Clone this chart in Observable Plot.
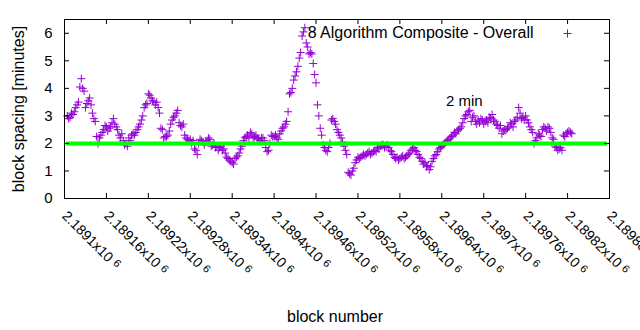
<!DOCTYPE html>
<html>
<head>
<meta charset="utf-8">
<script src="https://cdn.jsdelivr.net/npm/d3@7"></script>
<script src="https://cdn.jsdelivr.net/npm/@observablehq/plot@0.6"></script>
<style>
  html, body { margin: 0; padding: 0; background: #fff; }
  svg { display: block; }
</style>
</head>
<body>
<div id="chart"></div>
<script>
// ---- data ----
const blocksA = [
  2189104,2189108,2189112,2189116,2189120,2189124,2189128,2189132,2189136,2189140,
  2189144,2189148,2189152,2189156,2189160,2189164,2189168,2189172,2189176,2189180,
  2189184,2189188,2189192,2189196,2189200,2189204,2189208,2189212,2189216,2189220,
  2189224,2189228,2189232,2189236,2189240,2189244,2189248,2189252,2189256,2189260,
  2189264,2189268,2189272,2189276,2189280,2189284,2189288,2189292,2189296,2189300,
  2189304,2189308,2189312,2189316,2189320,2189324,2189328,2189332,2189336,2189340,
  2189344,2189348,2189352,2189356,2189360,2189364,2189368,2189372,2189376,2189380,
  2189384,2189388,2189392,2189396,2189400,2189404,2189408,2189412,2189416,2189420,
  2189424,2189428,2189432,2189436,2189440,2189444,2189448,2189452,2189456,2189460,
  2189464,2189468,2189472,2189476,2189480,2189484,2189488,2189492,2189496,2189500,
  2189504,2189508,2189512,2189516,2189520,2189524,2189528,2189532,2189536,2189540,
  2189544,2189548,2189552,2189556,2189560,2189564,2189568,2189572,2189576,2189580,
  2189584,2189588,2189592,2189596,2189600,2189604,2189608,2189612,2189616,2189620,
  2189624,2189628,2189632,2189636,2189640,2189644,2189648,2189652,2189656,2189660,
  2189664,2189668,2189672,2189676,2189680,2189684,2189688,2189692,2189696,2189700,
  2189704,2189708,2189712,2189716,2189720,2189724,2189728,2189732,2189736,2189740,
  2189744,2189748,2189752,2189756,2189760,2189764,2189768,2189772,2189776,2189780,
  2189784,2189788,2189792,2189796,2189800,2189804,2189808,2189812,2189816,2189820,
  2189824
];
const spacingA = [
  3.0, 2.95, 3.05, 3.3, 3.5, 4.35, 3.9, 3.45, 3.65, 3.1,
  2.8, 2.0, 2.3, 2.5, 2.6, 2.55, 2.75, 2.7, 2.5, 2.2,
  2.1, 2.0, 2.2, 2.3, 2.3, 2.5, 2.7, 3.0, 3.4, 3.8,
  3.65, 3.5, 3.5, 3.1, 2.5, 2.25, 2.3, 2.7, 2.95, 3.1,
  2.75, 2.6, 2.3, 2.15, 2.15, 2.1, 1.75, 2.0, 2.1, 1.95,
  2.1, 2.15, 1.95, 1.85, 1.75, 1.9, 1.8, 1.5, 1.4, 1.3,
  1.45, 1.55, 1.8, 2.1, 2.25, 2.2, 2.35, 2.25, 2.2, 2.1,
  2.2, 1.85, 1.75, 2.3, 2.25, 2.2, 2.35, 2.55, 2.7, 3.15,
  3.85, 4.3, 4.6, 5.1, 5.9, 6.2, 5.5, 5.3, 4.9, 4.2,
  3.0, 2.3, 1.85, 1.7, 2.0, 2.9, 2.7, 2.4, 2.2, 1.9,
  1.6, 0.9, 1.0, 1.3, 1.5, 1.5, 1.6, 1.6, 1.7, 1.65,
  1.75, 1.85, 1.9, 1.95, 1.9, 1.85, 1.7, 1.5, 1.5, 1.45,
  1.55, 1.5, 1.6, 1.75, 1.85, 1.7, 1.5, 1.35, 1.3, 1.2,
  1.15, 1.45, 1.6, 1.8, 1.9, 2.0, 2.1, 2.2, 2.3, 2.35,
  2.5, 2.6, 2.9, 3.05, 3.2, 2.95, 2.8, 2.85, 2.9, 2.7,
  2.85, 2.95, 3.05, 2.8, 2.65, 2.65, 2.45, 2.5, 2.6, 2.7,
  2.8, 2.95, 3.1, 2.95, 3.0, 2.75, 2.5, 2.0, 2.2, 2.3,
  2.5, 2.55, 2.6, 2.4, 2.15, 1.85, 1.8, 1.75, 2.25, 2.4,
  2.4
];
const blocksB = [
  2189106,2189110,2189114,2189118,2189122,2189126,2189130,2189134,2189138,2189142,
  2189146,2189150,2189154,2189158,2189162,2189166,2189170,2189174,2189178,2189182,
  2189186,2189190,2189194,2189198,2189202,2189206,2189210,2189214,2189218,2189222,
  2189226,2189230,2189234,2189238,2189242,2189246,2189250,2189254,2189258,2189262,
  2189266,2189270,2189274,2189278,2189282,2189286,2189290,2189294,2189298,2189302,
  2189306,2189310,2189314,2189318,2189322,2189326,2189330,2189334,2189338,2189342,
  2189346,2189350,2189354,2189358,2189362,2189366,2189370,2189374,2189378,2189382,
  2189386,2189390,2189394,2189398,2189402,2189406,2189410,2189414,2189418,2189422,
  2189426,2189430,2189434,2189438,2189442,2189446,2189450,2189454,2189458,2189462,
  2189466,2189470,2189474,2189478,2189482,2189486,2189490,2189494,2189498,2189502,
  2189506,2189510,2189514,2189518,2189522,2189526,2189530,2189534,2189538,2189542,
  2189546,2189550,2189554,2189558,2189562,2189566,2189570,2189574,2189578,2189582,
  2189586,2189590,2189594,2189598,2189602,2189606,2189610,2189614,2189618,2189622,
  2189626,2189630,2189634,2189638,2189642,2189646,2189650,2189654,2189658,2189662,
  2189666,2189670,2189674,2189678,2189682,2189686,2189690,2189694,2189698,2189702,
  2189706,2189710,2189714,2189718,2189722,2189726,2189730,2189734,2189738,2189742,
  2189746,2189750,2189754,2189758,2189762,2189766,2189770,2189774,2189778,2189782,
  2189786,2189790,2189794,2189798,2189802,2189806,2189810,2189814,2189818,2189822,
  2189826
];
const spacingB = [
  2.9, 3.1, 3.15, 3.4, 4.05, 4.0, 3.3, 3.55, 3.4, 2.9,
  2.25, 2.2, 2.4, 2.65, 2.45, 2.6, 2.9, 2.6, 2.3, 2.35,
  1.95, 1.9, 2.1, 2.35, 2.4, 2.6, 2.85, 3.3, 3.45, 3.75,
  3.55, 3.4, 3.3, 2.55, 2.2, 2.25, 2.45, 2.85, 3.0, 3.2,
  2.65, 2.7, 2.2, 2.1, 2.0, 1.8, 1.6, 2.15, 2.05, 2.05,
  2.2, 1.9, 2.0, 1.9, 1.85, 1.75, 1.65, 1.45, 1.35, 1.25,
  1.5, 1.65, 1.9, 2.2, 2.3, 2.4, 2.2, 2.3, 2.15, 2.2,
  2.1, 1.7, 2.0, 2.25, 2.3, 2.15, 2.45, 2.6, 2.8, 3.8,
  4.0, 4.45, 4.8, 5.3, 6.05, 5.65, 5.25, 5.25, 4.5, 3.4,
  2.55, 1.95, 1.75, 1.85, 2.85, 2.8, 2.5, 2.3, 2.05, 1.75,
  0.95, 0.85, 1.1, 1.4, 1.45, 1.55, 1.55, 1.65, 1.6, 1.7,
  1.7, 1.8, 1.95, 1.85, 1.95, 1.75, 1.6, 1.45, 1.4, 1.5,
  1.45, 1.55, 1.65, 1.8, 1.75, 1.6, 1.45, 1.25, 1.15, 1.05,
  1.35, 1.55, 1.7, 1.85, 1.95, 2.05, 2.15, 2.25, 2.4, 2.45,
  2.55, 2.75, 3.0, 3.15, 2.8, 3.0, 2.7, 2.75, 2.85, 2.8,
  2.75, 2.9, 2.85, 2.7, 2.55, 2.35, 2.5, 2.55, 2.75, 2.6,
  2.85, 3.3, 2.9, 2.85, 2.85, 2.6, 2.4, 2.1, 2.35, 2.25,
  2.6, 2.45, 2.55, 2.2, 1.9, 1.75, 1.85, 2.3, 2.35, 2.45,
  2.35
];
const seriesName = "8 Algorithm Composite - Overall";
const targetMinutes = [2];
const targetLabel = [{block: 2189646, value: 3.53, text: "2 min"}];
const yTickValues = [0, 1, 2, 3, 4, 5, 6];
const yMax = 6.5;
const xTickValues = [2189100, 2189160, 2189220, 2189280, 2189340, 2189400, 2189460,
                     2189520, 2189580, 2189640, 2189700, 2189760, 2189820, 2189880];
const xTickLabels = ["2.1891", "2.18916", "2.18922", "2.18928", "2.18934", "2.1894", "2.18946",
                     "2.18952", "2.18958", "2.18964", "2.1897", "2.18976", "2.18982", "2.18988"];
const xTitle = "block number";
const yTitle = "block spacing [minutes]";

// ---- layout ----
const W = 640, H = 330, mL = 64, mR = 31, mT = 19, mB = 132;
const innerW = W - mL - mR, innerH = H - mT - mB;
const tickLen = 5;
const purple = "#9400d3";

const data = blocksA.map((b, i) => ({block: b, value: spacingA[i]}))
  .concat(blocksB.map((b, i) => ({block: b, value: spacingB[i]})));

const chart = Plot.plot({
  width: W, height: H,
  marginLeft: mL, marginRight: mR, marginTop: mT, marginBottom: mB,
  style: {fontFamily: "'Liberation Sans', Arial, sans-serif", fontSize: "14px", color: "#000", background: "#fff"},
  x: {domain: [xTickValues[0], xTickValues[xTickValues.length - 1]]},
  y: {domain: [0, yMax]},
  marks: [
    Plot.dot(data, {x: "block", y: "value", symbol: "plus", r: 2.7, stroke: purple, strokeWidth: 1}),
    Plot.ruleY(targetMinutes, {y: d => d, stroke: "#00ff00", strokeWidth: 4, insetLeft: 2, insetRight: 2}),
    Plot.text(targetLabel, {x: "block", y: "value", text: "text", textAnchor: "start", lineAnchor: "middle", fill: "#000", fontSize: 15}),
    Plot.frame({stroke: "#000", strokeWidth: 1}),
    // inward ticks on all four sides
    Plot.tickY(yTickValues, {y: d => d, stroke: "#000", insetRight: innerW - tickLen}),
    Plot.tickY(yTickValues, {y: d => d, stroke: "#000", insetLeft: innerW - tickLen}),
    Plot.tickX(xTickValues, {x: d => d, stroke: "#000", insetTop: innerH - tickLen}),
    Plot.tickX(xTickValues, {x: d => d, stroke: "#000", insetBottom: innerH - tickLen}),
    Plot.axisY(yTickValues, {tickSize: 0, tickPadding: 12, label: null, fontSize: 15, tickFormat: d => String(d)}),
    Plot.axisX(xTickValues, {tickSize: 0, tickRotate: 45, tickPadding: 15, label: null,
      tickFormat: d => xTickLabels[xTickValues.indexOf(d)] + "x10"}),
    // legend
    Plot.text([seriesName], {text: d => d, frameAnchor: "top-right", textAnchor: "end", lineAnchor: "middle", dx: -76, dy: 13, fill: "#000", fontSize: 16}),
    Plot.dot([seriesName], {frameAnchor: "top-right", dx: -42, dy: 14, symbol: "plus", r: 2.7, stroke: purple, strokeWidth: 1}),
    // axis titles
    Plot.text([yTitle], {text: d => d, frameAnchor: "left", rotate: -90, dx: -46, textAnchor: "middle", lineAnchor: "middle", fill: "#000", fontSize: 16}),
    Plot.text([xTitle], {text: d => d, frameAnchor: "bottom", dx: -2, dy: 118, textAnchor: "middle", lineAnchor: "middle", fill: "#000", fontSize: 16})
  ]
});

// superscript exponent on the x tick labels
d3.select(chart).selectAll('g[aria-label="x-axis tick label"] text').each(function () {
  d3.select(this).append("tspan").attr("dx", 4).attr("dy", -3).attr("font-size", 11).text("6");
});

document.getElementById("chart").append(chart);
</script>
</body>
</html>
